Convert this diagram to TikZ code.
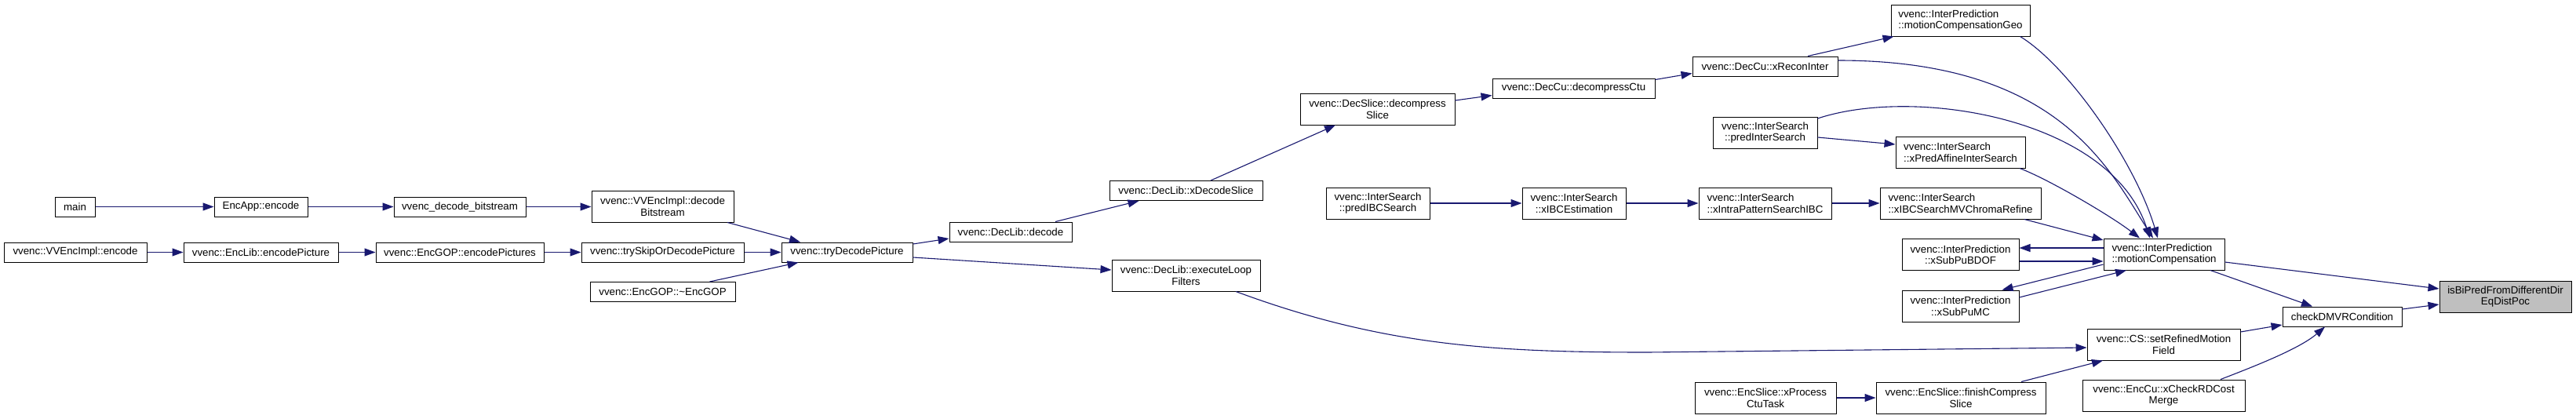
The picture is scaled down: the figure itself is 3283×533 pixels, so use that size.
\documentclass[tikz,border=0pt]{standalone}
\usepackage{fontspec}
\setmainfont{Liberation Sans}
\usetikzlibrary{arrows.meta,calc}
\definecolor{edgeblue}{HTML}{191970}
\definecolor{hlgray}{HTML}{BFBFBF}
\tikzset{
  fn/.style={draw=black, line width=1pt, inner sep=1pt, align=center,
    font=\fontsize{13.3}{14.5}\selectfont},
  callarr/.style={draw=edgeblue, line width=1.1pt, -{Triangle[length=14pt,width=10pt]}},
}
\begin{document}
\begin{tikzpicture}[x=1pt,y=-1pt]
\fill[white] (0,0) rectangle (3283,533);
\useasboundingbox (0,0) rectangle (3283,533);
% nodes
\node[fn, minimum width=51pt, minimum height=25pt] (main) at (95.5,263.5) {main};
\node[fn, minimum width=119pt, minimum height=25pt] (encappenc) at (332.5,263.5) {EncApp::encode};
\node[fn, minimum width=168pt, minimum height=25pt] (decbits) at (586,263.5) {vvenc\_decode\_bitstream};
\node[fn, minimum width=182pt, minimum height=25pt] (vvencimplenc) at (96,321.5) {vvenc::VVEncImpl::encode};
\node[fn, minimum width=197pt, minimum height=25pt] (enclibpic) at (332.5,321.5) {vvenc::EncLib::encodePicture};
\node[fn, minimum width=214pt, minimum height=25pt] (encgoppics) at (586,321.5) {vvenc::EncGOP::encodePictures};
\node[fn, minimum width=181pt, minimum height=40pt] (decodebits) at (844.5,263) {vvenc::VVEncImpl::decode\\Bitstream};
\node[fn, minimum width=207pt, minimum height=25pt] (tryskip) at (844.5,321.5) {vvenc::trySkipOrDecodePicture};
\node[fn, minimum width=185pt, minimum height=25pt] (encgopdtor) at (844.5,372) {vvenc::EncGOP::\textasciitilde EncGOP};
\node[fn, minimum width=167pt, minimum height=25pt] (trydecode) at (1079.5,321.5) {vvenc::tryDecodePicture};
\node[fn, minimum width=156pt, minimum height=25pt] (declibdecode) at (1288,295.5) {vvenc::DecLib::decode};
\node[fn, minimum width=189pt, minimum height=40pt] (execloop) at (1511.5,351) {vvenc::DecLib::executeLoop\\Filters};
\node[fn, minimum width=195pt, minimum height=25pt] (xdecodeslice) at (1511.5,243) {vvenc::DecLib::xDecodeSlice};
\node[fn, minimum width=197pt, minimum height=40pt] (decompslice) at (1755.5,139) {vvenc::DecSlice::decompress\\Slice};
\node[fn, minimum width=207pt, minimum height=25pt] (decompctu) at (2005.5,112.5) {vvenc::DecCu::decompressCtu};
\node[fn, minimum width=132pt, minimum height=40pt] (predibc) at (1756,259) {vvenc::InterSearch\\::predIBCSearch};
\node[fn, minimum width=132pt, minimum height=40pt] (xibcest) at (2006,259) {vvenc::InterSearch\\::xIBCEstimation};
\node[fn, minimum width=169pt, minimum height=40pt, align=left] (xintrapat) at (2249.5,259) {vvenc::InterSearch\\::xIntraPatternSearchIBC};
\node[fn, minimum width=205pt, minimum height=40pt, align=left] (xibcchroma) at (2498.5,259) {vvenc::InterSearch\\::xIBCSearchMVChromaRefine};
\node[fn, minimum width=185pt, minimum height=25pt] (xreconinter) at (2249.5,84.5) {vvenc::DecCu::xReconInter};
\node[fn, minimum width=177pt, minimum height=40pt, align=left] (mcgeo) at (2498.5,26) {vvenc::InterPrediction\\::motionCompensationGeo};
\node[fn, minimum width=133pt, minimum height=40pt] (predinter) at (2249.5,169) {vvenc::InterSearch\\::predInterSearch};
\node[fn, minimum width=165pt, minimum height=40pt, align=left] (xpredaffine) at (2498.5,194) {vvenc::InterSearch\\::xPredAffineInterSearch};
\node[fn, minimum width=149pt, minimum height=40pt] (xsubpubdof) at (2498.5,324.5) {vvenc::InterPrediction\\::xSubPuBDOF};
\node[fn, minimum width=149pt, minimum height=40pt] (xsubpumc) at (2498.5,390) {vvenc::InterPrediction\\::xSubPuMC};
\node[fn, minimum width=180pt, minimum height=40pt] (xprocctu) at (2250,507) {vvenc::EncSlice::xProcess\\CtuTask};
\node[fn, minimum width=216pt, minimum height=40pt] (finishcomp) at (2499,507) {vvenc::EncSlice::finishCompress\\Slice};
\node[fn, minimum width=154pt, minimum height=40pt, align=left] (mc) at (2758,324) {vvenc::InterPrediction\\::motionCompensation};
\node[fn, minimum width=195pt, minimum height=40pt] (setrefined) at (2757.5,439) {vvenc::CS::setRefinedMotion\\Field};
\node[fn, minimum width=207pt, minimum height=40pt] (xcheckrd) at (2757.5,504) {vvenc::EncCu::xCheckRDCost\\Merge};
\node[fn, minimum width=152pt, minimum height=25pt] (checkdmvr) at (2985,403.5) {checkDMVRCondition};
\node[fn, fill=hlgray, minimum width=168pt, minimum height=40pt] (isbipred) at (3193,378) {isBiPredFromDifferentDir\\EqDistPoc};
% edges
\draw[callarr] (main) -- (encappenc);
\draw[callarr] (encappenc) -- (decbits);
\draw[callarr] (decbits.east) -- (decbits.east -| decodebits.west);
\draw[callarr] (vvencimplenc) -- (enclibpic);
\draw[callarr] (enclibpic) -- (encgoppics);
\draw[callarr] (encgoppics) -- (tryskip);
\draw[callarr] ($(decodebits.south)+(82.5,0)$) -- ($(trydecode.north)+(-59.5,0)$);
\draw[callarr] (tryskip) -- (trydecode);
\draw[callarr] ($(encgopdtor.north)+(60,0)$) -- ($(trydecode.south)+(-62,0)$);
\draw[callarr] ($(trydecode.east)+(0,-10.5)$) -- ($(declibdecode.west)+(0,8.5)$);
\draw[callarr] ($(trydecode.east)+(0,6.5)$) -- ($(execloop.west)+(0,-7)$);
\draw[callarr] ($(declibdecode.north)+(57,0)$) -- ($(xdecodeslice.south)+(-60,0)$);
\draw[callarr] ($(xdecodeslice.north)+(31.5,0)$) -- ($(decompslice.south)+(-53.5,0)$);
\draw[callarr] ($(decompslice.east)+(0,-11)$) -- ($(decompctu.west)+(0,9)$);
\draw[callarr] ($(decompctu.east)+(0,-11)$) -- ($(xreconinter.west)+(0,9)$);
\draw[callarr] ($(xreconinter.north)+(54.5,0)$) -- ($(mcgeo.south)+(-85,0)$);
\draw[callarr] ($(xreconinter.east)+(0,-7.5)$) .. controls (2622,77) and (2687,214) .. ($(mc.north)+(-14,0)$);
\draw[callarr] ($(mcgeo.south)+(76,0)$) .. controls (2635,83) and (2721,206) .. ($(mc.north)+(-8,0)$);
\draw[callarr] ($(predinter.east)+(0,-18)$) .. controls (2440,110) and (2690,150) .. ($(mc.north)+(-18,0)$);
\draw[callarr] ($(predinter.east)+(0,6)$) -- ($(xpredaffine.west)+(0,-10)$);
\draw[callarr] ($(xpredaffine.south)+(75.5,0)$) .. controls (2610,228) and (2690,275) .. ($(mc.north)+(-31,0)$);
\draw[callarr] (predibc) -- (xibcest);
\draw[callarr] (xibcest) -- (xintrapat);
\draw[callarr] (xintrapat) -- (xibcchroma);
\draw[callarr] ($(xibcchroma.south)+(81.5,0)$) -- ($(mc.west)+(0,-18)$);
\draw[callarr] ($(mc.west)+(0,-8)$) -- ($(xsubpubdof.east)+(0,-8.5)$);
\draw[callarr] ($(xsubpubdof.east)+(0,8.5)$) -- ($(mc.west)+(0,9)$);
\draw[callarr] ($(mc.west)+(0,13)$) -- ($(xsubpumc.north)+(53,0)$);
\draw[callarr] ($(xsubpumc.east)+(0,-11)$) -- ($(mc.south)+(-48,0)$);
\draw[callarr] ($(mc.east)+(0,10)$) -- ($(isbipred.west)+(0,-10)$);
\draw[callarr] ($(mc.south)+(59,0)$) -- ($(checkdmvr.north)+(-38,0)$);
\draw[callarr] ($(checkdmvr.east)+(0,-9.5)$) -- ($(isbipred.west)+(0,10)$);
\draw[callarr] ($(setrefined.east)+(0,-16)$) -- ($(checkdmvr.west)+(0,10.5)$);
\draw[callarr] ($(xcheckrd.north)+(72.5,0)$) .. controls (2870,468) and (2930,445) .. ($(checkdmvr.south)+(-22,0)$);
\coordinate (elmid) at (2100,449);
\draw[callarr] ($(execloop.south)+(63.5,0)$) .. controls (1760,440) and (1900,449) .. (elmid) -- ($(setrefined.west)+(0,4)$);
\draw[callarr] (xprocctu) -- (finishcomp);
\draw[callarr] ($(finishcomp.north)+(77,0)$) -- ($(setrefined.south)+(-77.5,0)$);
\end{tikzpicture}
\end{document}
